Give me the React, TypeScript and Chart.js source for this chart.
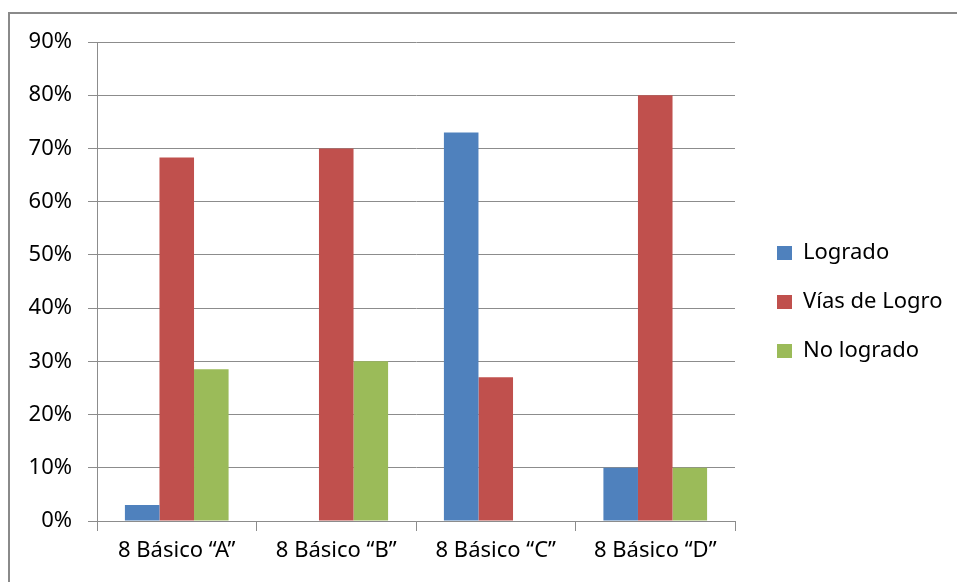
import React, { useEffect, useRef } from "react";
import { Chart, registerables } from "chart.js";

Chart.register(...registerables);

const categories = ["8 Básico “A”", "8 Básico “B”", "8 Básico “C”", "8 Básico “D”"];
const logrado = [3, 0, 73, 10];
const viasDeLogro = [68.3, 70, 27, 80];
const noLogrado = [28.5, 30, 0, 10];
const seriesNames = ["Logrado", "Vías de Logro", "No logrado"];
const seriesColors = ["#4F81BD", "#C0504D", "#9BBB59"];

const FONT = "'Noto Sans', sans-serif";
const GRID = "#8c8c8c";
const LEGEND_W = 207;
const LEGEND_SHIFT = 10;

const legendFit = {
  id: "legendFit",
  beforeInit(chart: any) {
    const orig = chart.legend.fit;
    chart.legend.fit = function () {
      orig.call(this);
      this.width = LEGEND_W;
    };
  },
  afterLayout(chart: any) {
    if (chart.legend) {
      chart.legend.top -= LEGEND_SHIFT;
      chart.legend.bottom -= LEGEND_SHIFT;
    }
  },
};

export default function App() {
  const ref = useRef<HTMLCanvasElement | null>(null);

  useEffect(() => {
    if (!ref.current) return;
    const chart = new Chart(ref.current, {
      type: "bar",
      data: {
        labels: categories,
        datasets: [logrado, viasDeLogro, noLogrado].map((d, i) => ({
          label: seriesNames[i],
          data: d,
          backgroundColor: seriesColors[i],
          borderWidth: 0,
          categoryPercentage: 0.65,
          barPercentage: 1,
        })),
      },
      plugins: [legendFit],
      options: {
        animation: false,
        responsive: false,
        layout: { padding: { top: 42, left: 0, right: 0, bottom: 0 } },
        plugins: {
          tooltip: { enabled: false },
          legend: {
            position: "right",
            labels: {
              boxWidth: 15,
              boxHeight: 14,
              padding: 27,
              color: "#000",
              font: { family: FONT, size: 22 },
            },
          },
        },
        scales: {
          x: {
            grid: { display: true, drawOnChartArea: false, tickLength: 10, color: GRID, offset: true },
            border: { color: GRID, width: 1 },
            ticks: { color: "#000", padding: 7, font: { family: FONT, size: 22 }, maxRotation: 0 },
            afterFit(s: any) {
              s.height = 61;
            },
          },
          y: {
            min: 0,
            max: 90,
            grid: { color: GRID, tickLength: 9 },
            border: { color: GRID, width: 1 },
            ticks: {
              stepSize: 10,
              color: "#000",
              padding: 16,
              font: { family: FONT, size: 22 },
              callback: (v: any) => `${v}%`,
            },
            afterFit(s: any) {
              s.width = 97;
            },
          },
          gap: {
            type: "linear",
            position: "right",
            display: true,
            grid: { display: false },
            border: { display: false },
            ticks: { display: false },
            afterFit(s: any) {
              s.width = 15;
            },
          },
        },
      } as any,
    });
    return () => chart.destroy();
  }, []);

  return (
    <div
      style={{
        position: "fixed",
        left: 0,
        top: 0,
        width: 957,
        height: 582,
        overflow: "hidden",
        background: "#fff",
      }}
    >
      <div
        style={{
          position: "absolute",
          left: 8,
          top: 12,
          width: 2000,
          height: 2000,
          border: "2px solid #8a8a8a",
        }}
      />
      <canvas ref={ref} width={957} height={582} style={{ position: "absolute", left: 0, top: 0 }} />
    </div>
  );
}
